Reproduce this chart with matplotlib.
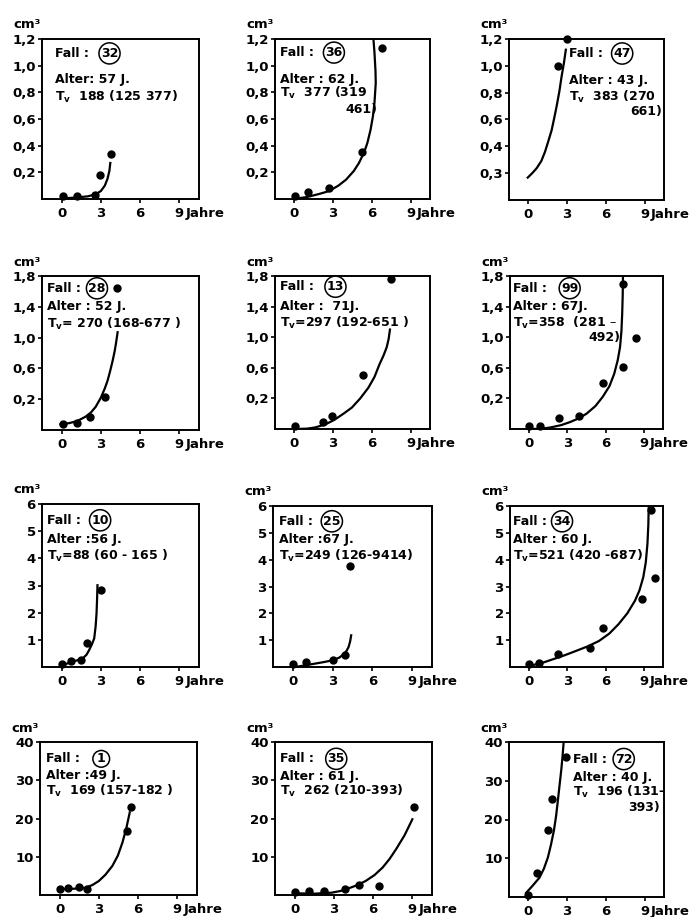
import matplotlib.pyplot as plt

plt.rcParams['font.family'] = ['DejaVu Sans']
plt.rcParams['font.weight'] = 'bold'
plt.rcParams['mathtext.default'] = 'bf'

W, H = 691, 917

x_ticks = [0, 3, 6, 9]
x_labels = ['0', '3', '6', '9']

y_ticks_r1 = [0.2, 0.4, 0.6, 0.8, 1.0, 1.2]
y_labels_r1 = ['0,2', '0,4', '0,6', '0,8', '1,0', '1,2']
y_labels_47 = ['0,3', '0,4', '0,6', '0,8', '1,0', '1,2']
y_ticks_r2 = [0.2, 0.6, 1.0, 1.4, 1.8]
y_labels_r2 = ['0,2', '0,6', '1,0', '1,4', '1,8']
y_ticks_r3 = [1, 2, 3, 4, 5, 6]
y_ticks_r4 = [10, 20, 30, 40]

f32_t = [0.13, 1.15, 2.56, 2.95, 3.8]
f32_v = [0.025, 0.025, 0.03, 0.18, 0.34]
f32_kt = [0.0, 1.0, 2.0, 2.6, 3.0, 3.3, 3.5, 3.65, 3.72]
f32_kv = [0.005, 0.01, 0.02, 0.035, 0.06, 0.1, 0.15, 0.21, 0.27]

f36_t = [0.05, 1.03, 2.65, 5.27, 6.76]
f36_v = [0.025, 0.05, 0.08, 0.35, 1.13]
f36_kt = [0.1, 1.0, 2.0, 2.7, 3.4, 4.0, 4.6, 5.0, 5.4, 5.65, 5.9, 6.08, 6.2, 6.3, 6.28, 6.2, 6.12]
f36_kv = [0.003, 0.015, 0.04, 0.06, 0.1, 0.145, 0.21, 0.27, 0.35, 0.42, 0.52, 0.62, 0.72, 0.87, 0.96, 1.1, 1.2]

f47_t = [2.26, 2.96]
f47_v = [1.0, 1.2]
f47_kt = [-0.05, 0.3, 0.64, 1.0, 1.29, 1.55, 1.8, 2.0, 2.19, 2.4, 2.57, 2.75, 2.9]
f47_kv = [0.167, 0.2, 0.237, 0.29, 0.36, 0.44, 0.52, 0.61, 0.7, 0.81, 0.92, 1.02, 1.12]

f28_t = [0.1, 1.15, 2.18, 3.3, 4.23]
f28_v = [-0.117, -0.113, -0.03, 0.235, 1.64]
f28_kt = [-0.08, 0.6, 1.2, 1.8, 2.23, 2.6, 3.0, 3.3, 3.51, 3.7, 3.9, 4.05, 4.15, 4.28]
f28_kv = [-0.126, -0.11, -0.083, -0.03, 0.026, 0.1, 0.22, 0.34, 0.44, 0.56, 0.7, 0.82, 0.92, 1.07]

f13_t = [0.03, 2.2, 2.9, 5.35, 7.45]
f13_v = [-0.16, -0.11, -0.03, 0.51, 1.76]
f13_kt = [0.08, 1.0, 1.6, 2.4, 3.1, 3.8, 4.45, 5.1, 5.73, 6.2, 6.6, 6.9, 7.15, 7.3, 7.4]
f13_kv = [-0.2, -0.195, -0.18, -0.14, -0.08, 0.0, 0.08, 0.2, 0.34, 0.48, 0.65, 0.76, 0.87, 0.98, 1.1]

f99_t = [0.0, 0.85, 2.38, 3.92, 5.77, 7.36, 7.36, 8.41]
f99_v = [-0.165, -0.157, -0.06, -0.03, 0.40, 0.61, 1.70, 0.99]
f99_kt = [0.13, 1.0, 1.67, 2.5, 3.2, 3.9, 4.5, 5.2, 5.77, 6.3, 6.67, 6.95, 7.13, 7.24, 7.3, 7.34, 7.36]
f99_kv = [-0.2, -0.195, -0.18, -0.15, -0.11, -0.06, 0.0, 0.1, 0.22, 0.36, 0.52, 0.7, 0.87, 1.08, 1.31, 1.55, 1.8]

f10_t = [0.0, 0.69, 1.46, 1.97, 3.0]
f10_v = [0.1, 0.21, 0.25, 0.89, 2.82]
f10_kt = [0.0, 0.82, 1.59, 1.9, 2.1, 2.3, 2.49, 2.6, 2.67, 2.71, 2.74]
f10_kv = [0.06, 0.19, 0.31, 0.45, 0.62, 0.82, 1.05, 1.5, 1.99, 2.5, 3.01]

f25_t = [0.0, 0.96, 3.0, 3.94, 4.32]
f25_v = [0.12, 0.19, 0.25, 0.43, 3.75]
f25_kt = [0.18, 0.9, 1.6, 2.3, 3.0, 3.5, 3.8, 4.05, 4.2, 4.32, 4.4]
f25_kv = [0.0, 0.06, 0.12, 0.18, 0.25, 0.35, 0.46, 0.6, 0.74, 0.95, 1.18]

f34_t = [0.0, 0.77, 2.26, 4.78, 5.79, 8.82, 9.54, 9.84]
f34_v = [0.12, 0.16, 0.47, 0.70, 1.47, 2.53, 5.86, 3.32]
f34_kt = [0.0, 1.0, 1.88, 2.8, 3.68, 4.6, 5.48, 6.3, 7.02, 7.7, 8.3, 8.65, 8.95, 9.15, 9.28, 9.35, 9.38]
f34_kv = [0.04, 0.15, 0.29, 0.44, 0.6, 0.77, 0.97, 1.25, 1.6, 2.0, 2.47, 2.85, 3.34, 3.9, 4.59, 5.3, 6.0]

f1_t = [0.0, 0.64, 1.46, 2.1, 5.13, 5.44]
f1_v = [1.66, 1.83, 2.18, 1.48, 16.8, 22.9]
f1_kt = [-0.08, 1.2, 1.97, 2.5, 3.0, 3.5, 4.03, 4.45, 4.8, 5.1, 5.36]
f1_kv = [1.48, 1.66, 1.9, 2.6, 3.67, 5.3, 7.6, 10.3, 13.7, 17.5, 21.6]

f35_t = [0.0, 1.11, 2.25, 3.83, 4.91, 6.46, 9.13]
f35_v = [0.8, 1.05, 1.05, 1.48, 2.62, 2.36, 23.1]
f35_kt = [0.0, 1.55, 2.84, 3.5, 4.14, 4.8, 5.43, 6.1, 6.72, 7.25, 7.76, 8.4, 9.0]
f35_kv = [0.44, 0.35, 0.61, 1.05, 1.75, 2.6, 3.67, 5.2, 7.16, 9.4, 12.0, 15.6, 19.8]

f72_t = [0.0, 0.65, 1.51, 1.85, 2.95]
f72_v = [0.6, 6.3, 17.2, 25.3, 36.2]
f72_kt = [-0.18, 0.3, 0.86, 1.2, 1.51, 1.75, 1.98, 2.15, 2.29, 2.42, 2.55, 2.65, 2.73]
f72_kv = [1.05, 2.8, 5.0, 7.3, 10.2, 13.5, 17.2, 21.0, 25.1, 29.0, 32.9, 36.5, 39.9]

# panel boxes in pixels: left, top, right, bottom
panels = [
    dict(box=(42, 39, 199, 199), ylim=(0, 1.2), yt=y_ticks_r1, yl=y_labels_r1,
         t=f32_t, v=f32_v, kt=f32_kt, kv=f32_kv, fall='32', alter='Alter: 57 J.',
         tv='T$_v$  188 (125 377)', tv2=None, tx=0.085, cx=0.43, ys=(0.91, 0.745, 0.64, 0)),
    dict(box=(275, 39, 430, 199), ylim=(0, 1.2), yt=y_ticks_r1, yl=y_labels_r1,
         t=f36_t, v=f36_v, kt=f36_kt, kv=f36_kv, fall='36', alter='Alter : 62 J.',
         tv='T$_v$  377 (319', tv2=('461)', 0.66), tx=0.03, cx=0.38, ys=(0.915, 0.745, 0.66, 0.56)),
    dict(box=(509, 39, 664, 200), ylim=(0, 1.2), yt=y_ticks_r1, yl=y_labels_47,
         t=f47_t, v=f47_v, kt=f47_kt, kv=f47_kv, fall='47', alter='Alter : 43 J.',
         tv='T$_v$  383 (270', tv2=('661)', 0.985), tx=0.39, cx=0.73, ys=(0.91, 0.745, 0.64, 0.55)),
    dict(box=(42, 276, 199, 430), ylim=(-0.2, 1.8), yt=y_ticks_r2, yl=y_labels_r2,
         t=f28_t, v=f28_v, kt=f28_kt, kv=f28_kv, fall='28', alter='Alter : 52 J.',
         tv='T$_v$= 270 (168-677 )', tv2=None, tx=0.03, cx=0.35, ys=(0.92, 0.80, 0.69, 0)),
    dict(box=(275, 276, 430, 429), ylim=(-0.2, 1.8), yt=y_ticks_r2, yl=y_labels_r2,
         t=f13_t, v=f13_v, kt=f13_kt, kv=f13_kv, fall='13', alter='Alter :  71J.',
         tv='T$_v$=297 (192-651 )', tv2=None, tx=0.03, cx=0.39, ys=(0.93, 0.80, 0.69, 0)),
    dict(box=(510, 276, 663, 429), ylim=(-0.2, 1.8), yt=y_ticks_r2, yl=y_labels_r2,
         t=f99_t, v=f99_v, kt=f99_kt, kv=f99_kv, fall='99', alter='Alter : 67J.',
         tv='T$_v$=358  (281 \u2013', tv2=('492)', 0.72), tx=0.02, cx=0.39, ys=(0.92, 0.80, 0.69, 0.60)),
    dict(box=(42, 504, 199, 667), ylim=(0, 6), yt=y_ticks_r3, yl=None,
         t=f10_t, v=f10_v, kt=f10_kt, kv=f10_kv, fall='10', alter='Alter :56 J.',
         tv='T$_v$=88 (60 - 165 )', tv2=None, tx=0.03, cx=0.37, ys=(0.90, 0.78, 0.68, 0)),
    dict(box=(273, 506, 432, 667), ylim=(0, 6), yt=y_ticks_r3, yl=None,
         t=f25_t, v=f25_v, kt=f25_kt, kv=f25_kv, fall='25', alter='Alter :67 J.',
         tv='T$_v$=249 (126-9414)', tv2=None, tx=0.04, cx=0.37, ys=(0.905, 0.79, 0.69, 0)),
    dict(box=(510, 506, 663, 667), ylim=(0, 6), yt=y_ticks_r3, yl=None,
         t=f34_t, v=f34_v, kt=f34_kt, kv=f34_kv, fall='34', alter='Alter : 60 J.',
         tv='T$_v$=521 (420 -687)', tv2=None, tx=0.02, cx=0.34, ys=(0.905, 0.79, 0.69, 0)),
    dict(box=(40, 742, 197, 895), ylim=(0, 40), yt=y_ticks_r4, yl=None,
         t=f1_t, v=f1_v, kt=f1_kt, kv=f1_kv, fall='1', alter='Alter :49 J.',
         tv='T$_v$  169 (157-182 )', tv2=None, tx=0.04, cx=0.39, ys=(0.89, 0.78, 0.68, 0)),
    dict(box=(275, 742, 432, 895), ylim=(0, 40), yt=y_ticks_r4, yl=None,
         t=f35_t, v=f35_v, kt=f35_kt, kv=f35_kv, fall='35', alter='Alter : 61 J.',
         tv='T$_v$  262 (210-393)', tv2=None, tx=0.03, cx=0.39, ys=(0.89, 0.775, 0.68, 0)),
    dict(box=(509, 742, 664, 897), ylim=(0, 40), yt=y_ticks_r4, yl=None,
         t=f72_t, v=f72_v, kt=f72_kt, kv=f72_kv, fall='72', alter='Alter : 40 J.',
         tv='T$_v$  196 (131-', tv2=('393)', 0.975), tx=0.41, cx=0.74, ys=(0.89, 0.77, 0.68, 0.58)),
]

fig = plt.figure(figsize=(W / 100, H / 100), dpi=100)
fs = 9

for p in panels:
    l, t, r, b = p['box']
    ax = fig.add_axes([l / W, 1 - b / H, (r - l) / W, (b - t) / H])
    ax.plot(p['kt'], p['kv'], color='black', lw=1.6, solid_joinstyle='round', clip_on=True)
    ax.plot(p['t'], p['v'], 'o', color='black', ms=5, clip_on=False)
    ax.set_xlim(-1.5, 10.5)
    ax.set_ylim(*p['ylim'])
    ax.set_xticks(x_ticks)
    ax.set_xticklabels(x_labels)
    ax.set_yticks(p['yt'])
    if p['yl'] is not None:
        ax.set_yticklabels(p['yl'])
    ax.tick_params(direction='out', length=3, width=1.2, labelsize=9.5)
    ax.tick_params(axis='x', pad=3)
    ax.tick_params(axis='y', pad=1.5)
    for s in ax.spines.values():
        s.set_linewidth(1.4)

    ax.text(-0.01, 1.09, 'cm\u00b3', transform=ax.transAxes, ha='right', va='center', fontsize=9.5)
    ax.annotate('Jahre', xy=(9, 0), xycoords=('data', 'axes fraction'), xytext=(4.5, -6),
                textcoords='offset points', ha='left', va='top', fontsize=9.5)

    y1, y2, y3, y4 = p['ys']
    ax.text(p['tx'], y1, 'Fall :', transform=ax.transAxes, ha='left', va='center', fontsize=fs)
    ax.text(p['cx'], y1, p['fall'], transform=ax.transAxes, ha='center', va='center', fontsize=fs,
            bbox=dict(boxstyle='circle,pad=0.15', fc='white', ec='black', lw=1.1))
    ax.text(p['tx'], y2, p['alter'], transform=ax.transAxes, ha='left', va='center', fontsize=fs)
    ax.text(p['tx'], y3, p['tv'], transform=ax.transAxes, ha='left', va='center', fontsize=fs)
    if p['tv2'] is not None:
        ax.text(p['tv2'][1], y4, p['tv2'][0], transform=ax.transAxes, ha='right', va='center', fontsize=fs)

fig.savefig('out.png', dpi=100, facecolor='white')
